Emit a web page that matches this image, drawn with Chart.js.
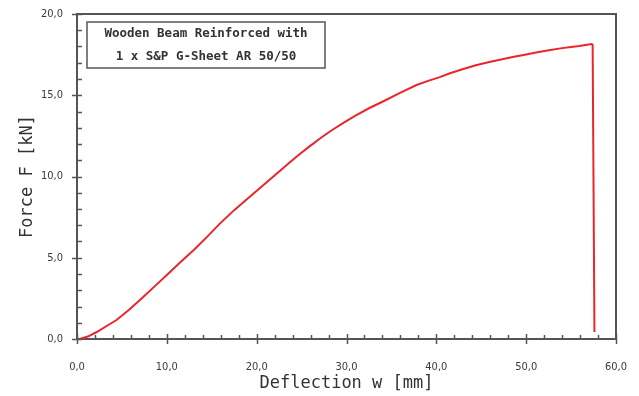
<!DOCTYPE html>
<html>
<head>
<meta charset="utf-8">
<script src="https://cdn.jsdelivr.net/npm/chart.js@4.4.1/dist/chart.umd.min.js"></script>
<style>
    html, body { margin: 0; padding: 0; background: #fff; }
    #wrap { width: 639px; height: 396px; }
</style>
</head>
<body>
<div id="wrap"><canvas id="chart"></canvas></div>
<script>
// Load-deflection curve
const deflection = [0.3, 1.2, 2.2, 3.3, 4.4, 5.8, 7.4, 8.7, 10.0, 11.5, 13.0, 14.5, 15.9, 17.5, 19.2, 20.5,
    21.7, 22.7, 23.7, 24.8, 26.0, 27.2, 28.4, 29.7, 31.0, 32.5, 34.0, 35.9, 37.8, 39.0, 40.3, 41.6, 43.0,
    44.4, 45.9, 47.2, 48.5, 50.0, 51.4, 52.7, 54.0, 55.0, 55.9, 56.6, 57.3, 57.4, 57.6];
const force = [0.0, 0.15, 0.43, 0.8, 1.17, 1.8, 2.6, 3.27, 3.94, 4.72, 5.48, 6.3, 7.1, 7.93, 8.74, 9.35,
    9.92, 10.4, 10.87, 11.38, 11.9, 12.4, 12.86, 13.32, 13.75, 14.2, 14.6, 15.13, 15.63, 15.87, 16.1,
    16.37, 16.62, 16.85, 17.05, 17.2, 17.35, 17.51, 17.66, 17.79, 17.9, 17.97, 18.03, 18.09, 18.15, 18.1, 0.43];

const xTicks = [0, 10, 20, 30, 40, 50, 60];
const yTicks = [0, 5, 10, 15, 20];
const xMinorStep = 2;
const yMinorStep = 1;

const legendLines = ['Wooden Beam Reinforced with', '1 x S&P G-Sheet AR 50/50'];

const axisColor = '#555';
const textColor = '#3a3a3a';

function fmt(v) {
    return v.toFixed(1).replace('.', ',');
}

// Frame, tick marks and the label box
const framePlugin = {
    id: 'frame',
    afterDraw(chart) {
        const { ctx, chartArea: { left, right, top, bottom }, scales: { x, y } } = chart;
        ctx.save();
        ctx.strokeStyle = axisColor;
        ctx.lineWidth = 2;
        ctx.beginPath();
        ctx.moveTo(left, top);
        ctx.lineTo(right, top);
        ctx.lineTo(right, bottom);
        ctx.stroke();

        ctx.lineWidth = 1.5;
        for (let v = x.min; v <= x.max + 1e-9; v += xMinorStep) {
            const px = Math.round(x.getPixelForValue(v)) + 0.5;
            const major = xTicks.includes(Math.round(v));
            ctx.beginPath();
            ctx.moveTo(px, bottom + (major ? 5 : 1));
            ctx.lineTo(px, bottom - (major ? 5 : 4));
            ctx.stroke();
        }
        for (let v = y.min; v <= y.max + 1e-9; v += yMinorStep) {
            const py = Math.round(y.getPixelForValue(v)) + 0.5;
            const major = yTicks.includes(Math.round(v));
            ctx.beginPath();
            ctx.moveTo(left - (major ? 5 : 0), py);
            ctx.lineTo(left + 5, py);
            ctx.stroke();
        }

        // label box
        const bx = left + 10, by = top + 8, bw = 238, bh = 46;
        ctx.fillStyle = '#fff';
        ctx.fillRect(bx, by, bw, bh);
        ctx.lineWidth = 1.5;
        ctx.strokeRect(bx, by, bw, bh);
        ctx.fillStyle = '#333';
        ctx.font = 'bold 12.5px "DejaVu Sans Mono", monospace';
        ctx.textAlign = 'center';
        ctx.textBaseline = 'middle';
        ctx.fillText(legendLines[0], bx + bw / 2, by + 12);
        ctx.fillText(legendLines[1], bx + bw / 2, by + 35);
        ctx.restore();
    }
};

const points = deflection.map((d, i) => ({ x: d, y: force[i] }));

new Chart(document.getElementById('chart'), {
    type: 'line',
    data: {
        datasets: [{
            data: points,
            borderColor: '#e8262b',
            borderWidth: 2,
            pointRadius: 0,
            tension: 0,
            fill: false
        }]
    },
    options: {
        responsive: true,
        maintainAspectRatio: false,
        animation: false,
        layout: { padding: { top: 14, right: 23, left: 0, bottom: 0 } },
        plugins: {
            legend: { display: false },
            tooltip: { enabled: false }
        },
        scales: {
            x: {
                type: 'linear',
                min: 0,
                max: 60,
                afterFit: scale => {
                    scale.height = 57;
                    scale.paddingLeft = 0;
                    scale.paddingRight = 0;
                },
                afterBuildTicks: scale => { scale.ticks = xTicks.map(v => ({ value: v })); },
                grid: { drawOnChartArea: false, drawTicks: false },
                border: { display: true, color: axisColor, width: 2 },
                ticks: {
                    padding: 22,
                    color: textColor,
                    font: { family: '"DejaVu Sans Condensed", "DejaVu Sans", sans-serif', size: 11 },
                    callback: v => fmt(v)
                },
                title: {
                    display: true,
                    text: 'Deflection w [mm]',
                    color: '#333',
                    font: { family: '"DejaVu Sans Mono", monospace', size: 17 },
                    padding: { top: 0, bottom: 2 }
                }
            },
            y: {
                type: 'linear',
                min: 0,
                max: 20,
                afterFit: scale => {
                    scale.width = 77;
                    scale.paddingTop = 0;
                    scale.paddingBottom = 0;
                },
                afterBuildTicks: scale => { scale.ticks = yTicks.map(v => ({ value: v })); },
                grid: { drawOnChartArea: false, drawTicks: false },
                border: { display: true, color: axisColor, width: 2 },
                ticks: {
                    padding: 14,
                    color: textColor,
                    font: { family: '"DejaVu Sans Condensed", "DejaVu Sans", sans-serif', size: 11 },
                    callback: v => fmt(v)
                },
                title: {
                    display: true,
                    text: 'Force F [kN]',
                    color: '#333',
                    font: { family: '"DejaVu Sans Mono", monospace', size: 17 },
                    padding: { top: 17, bottom: 0 }
                }
            }
        }
    },
    plugins: [framePlugin]
});
</script>
</body>
</html>
